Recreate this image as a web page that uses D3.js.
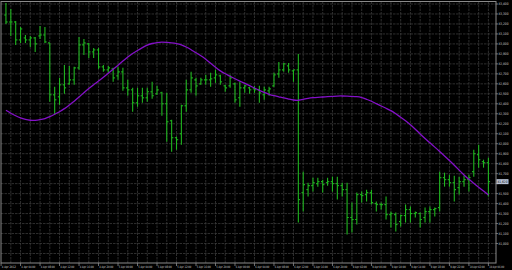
<!DOCTYPE html>
<html>
<head>
<meta charset="utf-8">
<script src="https://cdn.jsdelivr.net/npm/d3@7.9.0/dist/d3.min.js"></script>
<style>
  html, body { margin: 0; padding: 0; background: #000; }
  svg { display: block; }
  text { font-family: Tahoma, "DejaVu Sans", sans-serif; }
</style>
</head>
<body>
<div id="chart"></div>
<script>
// -------- data: hourly OHLC bars + smoothing line --------
const opens = [
  83.29, 83.22, 83.22, 83.04, 83.06, 83.04, 83.06, 83.08, 83.09, 83.01,
  82.49, 82.47, 82.59, 82.60, 82.64, 82.76, 82.99, 83.00, 82.92, 82.94,
  82.77, 82.74, 82.75, 82.68, 82.72, 82.56, 82.54, 82.41, 82.48, 82.46,
  82.52, 82.50, 82.51, 82.40, 82.23, 82.06, 82.10, 82.38, 82.54, 82.64,
  82.60, 82.64, 82.64, 82.66, 82.68, 82.58, 82.58, 82.60, 82.46, 82.56,
  82.56, 82.55, 82.54, 82.49, 82.53, 82.58, 82.70, 82.74, 82.78, 82.73,
  82.74, 81.51, 81.54, 81.58, 81.60, 81.62, 81.61, 81.62, 81.60, 81.58,
  81.54, 81.26, 81.24, 81.49, 81.49, 81.51, 81.40, 81.39, 81.39, 81.29,
  81.29, 81.22, 81.28, 81.34, 81.30, 81.30, 81.26, 81.32, 81.34, 81.36,
  81.66, 81.64, 81.61, 81.56, 81.62, 81.64, 81.72, 81.89, 81.82, 81.81
];
const highs = [
  83.41, 83.35, 83.23, 83.17, 83.09, 83.08, 83.07, 83.18, 83.17, 83.01,
  82.57, 82.66, 82.79, 82.78, 82.77, 83.07, 83.05, 83.01, 82.96, 82.96,
  82.79, 82.78, 82.76, 82.77, 82.76, 82.64, 82.56, 82.56, 82.56, 82.56,
  82.62, 82.58, 82.52, 82.51, 82.24, 82.07, 82.39, 82.64, 82.72, 82.66,
  82.66, 82.69, 82.71, 82.74, 82.69, 82.59, 82.69, 82.61, 82.62, 82.59,
  82.57, 82.58, 82.58, 82.57, 82.57, 82.71, 82.82, 82.81, 82.81, 82.74,
  82.90, 81.72, 81.61, 81.66, 81.66, 81.64, 81.66, 81.67, 81.67, 81.61,
  81.61, 81.41, 81.51, 81.52, 81.54, 81.54, 81.42, 81.41, 81.47, 81.32,
  81.31, 81.29, 81.39, 81.37, 81.32, 81.31, 81.36, 81.37, 81.36, 81.72,
  81.71, 81.69, 81.68, 81.67, 81.68, 81.69, 81.94, 81.99, 81.84, 81.86
];
const lows = [
  83.20, 83.08, 82.99, 83.01, 83.01, 82.97, 82.92, 83.05, 83.01, 82.42,
  82.29, 82.39, 82.50, 82.59, 82.59, 82.74, 82.89, 82.86, 82.86, 82.75,
  82.72, 82.71, 82.62, 82.64, 82.53, 82.48, 82.32, 82.37, 82.41, 82.42,
  82.45, 82.49, 82.28, 82.02, 81.92, 81.94, 81.99, 82.32, 82.51, 82.48,
  82.59, 82.59, 82.57, 82.61, 82.59, 82.52, 82.56, 82.41, 82.37, 82.51,
  82.50, 82.51, 82.41, 82.44, 82.48, 82.57, 82.66, 82.72, 82.71, 82.62,
  81.21, 81.32, 81.47, 81.52, 81.57, 81.51, 81.58, 81.52, 81.44, 81.47,
  81.09, 81.11, 81.19, 81.41, 81.42, 81.39, 81.32, 81.34, 81.24, 81.16,
  81.12, 81.17, 81.21, 81.21, 81.26, 81.16, 81.21, 81.21, 81.27, 81.32,
  81.57, 81.57, 81.42, 81.49, 81.57, 81.52, 81.67, 81.76, 81.76, 81.47
];
const closes = [
  83.22, 83.22, 83.04, 83.15, 83.04, 83.06, 83.00, 83.09, 83.02, 82.49,
  82.44, 82.59, 82.56, 82.64, 82.76, 82.99, 83.01, 82.92, 82.94, 82.77,
  82.74, 82.76, 82.66, 82.72, 82.56, 82.54, 82.41, 82.48, 82.46, 82.52,
  82.48, 82.54, 82.40, 82.22, 82.06, 82.04, 82.38, 82.54, 82.66, 82.58,
  82.64, 82.64, 82.65, 82.69, 82.62, 82.56, 82.66, 82.44, 82.56, 82.58,
  82.54, 82.54, 82.51, 82.54, 82.55, 82.69, 82.74, 82.80, 82.74, 82.74,
  81.44, 81.59, 81.58, 81.61, 81.62, 81.59, 81.62, 81.60, 81.58, 81.54,
  81.26, 81.24, 81.49, 81.48, 81.51, 81.41, 81.39, 81.39, 81.29, 81.30,
  81.19, 81.28, 81.34, 81.30, 81.31, 81.24, 81.32, 81.34, 81.35, 81.66,
  81.64, 81.61, 81.54, 81.62, 81.64, 81.66, 81.90, 81.84, 81.81, 81.62
];
const smooth = [
  82.335, 82.305, 82.280, 82.258, 82.244, 82.234, 82.232, 82.240, 82.250, 82.270,
  82.295, 82.320, 82.350, 82.388, 82.425, 82.467, 82.512, 82.554, 82.592, 82.628,
  82.667, 82.706, 82.746, 82.786, 82.828, 82.870, 82.905, 82.934, 82.963, 82.990,
  83.005, 83.015, 83.019, 83.015, 83.011, 83.005, 82.993, 82.970, 82.943, 82.910,
  82.883, 82.848, 82.807, 82.767, 82.728, 82.700, 82.677, 82.650, 82.627, 82.604,
  82.582, 82.558, 82.535, 82.514, 82.494, 82.481, 82.470, 82.458, 82.448, 82.437,
  82.433, 82.444, 82.456, 82.462, 82.465, 82.468, 82.471, 82.474, 82.478, 82.479,
  82.476, 82.474, 82.472, 82.464, 82.445, 82.427, 82.401, 82.378, 82.355, 82.334,
  82.300, 82.265, 82.230, 82.190, 82.145, 82.098, 82.052, 82.009, 81.966, 81.923,
  81.878, 81.832, 81.785, 81.735, 81.686, 81.643, 81.604, 81.564, 81.526, 81.487
];
// time labels: first one sits at the left edge, the rest every 4 bars from bar 3
const timeLabels = [
  '4 Apr 2012', '4 Apr 04:00', '4 Apr 08:00', '4 Apr 12:00', '4 Apr 16:00', '4 Apr 20:00',
  '5 Apr 00:00', '5 Apr 04:00', '5 Apr 08:00', '5 Apr 12:00', '5 Apr 16:00', '5 Apr 20:00',
  '6 Apr 00:00', '6 Apr 04:00', '6 Apr 08:00', '6 Apr 12:00', '6 Apr 16:00', '6 Apr 20:00',
  '9 Apr 02:00', '9 Apr 06:00', '9 Apr 10:00', '9 Apr 14:00', '9 Apr 18:00', '9 Apr 22:00',
  '10 Apr 02:00', '10 Apr 06:00'
];
const priceTicks = d3.range(25).map(k => +(83.4 - k * 0.1).toFixed(1));
const lastPrice = 81.62;

const bars = opens.map((o, i) => ({ i, o, h: highs[i], l: lows[i], c: closes[i] }));

// -------- layout --------
const width = 512;
const height = 270;
const plot = { left: 1, right: 496, top: 1.5, bottom: 263 };

const svg = d3.select('#chart')
  .append('svg')
  .attr('width', width)
  .attr('height', height);

svg.append('rect').attr('width', width).attr('height', height).attr('fill', '#000');

const xScale = d3.scaleLinear().domain([0, 99]).range([5.94, 488.4]);
const yScale = d3.scaleLinear().domain([80.9, 83.4]).range([253.5, 4]);

// -------- grid --------
const grid = svg.append('g')
  .attr('stroke', '#3a3a3a')
  .attr('stroke-width', 0.8)
  .attr('stroke-dasharray', '2.5,1');

grid.selectAll('line.h')
  .data(d3.range(26).map(k => 83.4 - k * 0.1))
  .join('line')
  .attr('class', 'h')
  .attr('x1', plot.left).attr('x2', plot.right)
  .attr('y1', d => yScale(d)).attr('y2', d => yScale(d));

grid.selectAll('line.v')
  .data(d3.range(1, 100, 2))
  .join('line')
  .attr('class', 'v')
  .attr('x1', d => xScale(d)).attr('x2', d => xScale(d))
  .attr('y1', plot.top).attr('y2', plot.bottom);

// -------- OHLC bars --------
const barG = svg.append('g')
  .attr('stroke', '#1fb51f')
  .attr('stroke-width', 1.1);

const barSel = barG.selectAll('g').data(bars).join('g');
barSel.append('line')
  .attr('x1', d => xScale(d.i)).attr('x2', d => xScale(d.i))
  .attr('y1', d => yScale(d.h)).attr('y2', d => yScale(d.l));
barSel.append('line')
  .attr('x1', d => xScale(d.i) - 1.7).attr('x2', d => xScale(d.i))
  .attr('y1', d => yScale(d.o)).attr('y2', d => yScale(d.o));
barSel.append('line')
  .attr('x1', d => xScale(d.i)).attr('x2', d => xScale(d.i) + 1.7)
  .attr('y1', d => yScale(d.c)).attr('y2', d => yScale(d.c));

// -------- smoothing line --------
const line = d3.line()
  .x((d, i) => xScale(i))
  .y(d => yScale(d))
  .curve(d3.curveBasis);

svg.append('path')
  .datum(smooth)
  .attr('fill', 'none')
  .attr('stroke', '#8410c8')
  .attr('stroke-width', 1.3)
  .attr('d', line);

// -------- frame --------
svg.append('rect')
  .attr('x', plot.left).attr('y', plot.top)
  .attr('width', plot.right - plot.left).attr('height', plot.bottom - plot.top)
  .attr('fill', 'none')
  .attr('stroke', '#8a8a8a')
  .attr('stroke-width', 1);

// -------- price axis --------
const fmt = d => d3.format('.3f')(d).replace('.', ',');
// the current-price box hides the tick label under it
const shownTicks = priceTicks.filter(d => Math.abs(yScale(d) - yScale(lastPrice)) > 5);
const yAxis = svg.append('g');
yAxis.selectAll('line')
  .data(priceTicks)
  .join('line')
  .attr('x1', plot.right).attr('x2', plot.right + 2)
  .attr('y1', d => yScale(d)).attr('y2', d => yScale(d))
  .attr('stroke', '#8a8a8a').attr('stroke-width', 0.8);
yAxis.selectAll('text')
  .data(shownTicks)
  .join('text')
  .attr('x', plot.right + 2.5)
  .attr('y', d => yScale(d) + 1.2)
  .attr('font-size', 3.4)
  .attr('textLength', 10)
  .attr('lengthAdjust', 'spacingAndGlyphs')
  .attr('fill', '#d0d0d0')
  .text(fmt);

// current price box
svg.append('rect')
  .attr('x', plot.right + 0.5).attr('y', yScale(lastPrice) - 2.5)
  .attr('width', 12).attr('height', 5)
  .attr('fill', '#b9c3d6');
svg.append('text')
  .attr('x', plot.right + 1.5).attr('y', yScale(lastPrice) + 1.2)
  .attr('font-size', 3.4)
  .attr('textLength', 10)
  .attr('lengthAdjust', 'spacingAndGlyphs')
  .attr('fill', '#000')
  .text(fmt(lastPrice));

// -------- time axis --------
const timeTicks = timeLabels.map((t, k) => ({ t, i: k === 0 ? -1 : 4 * k - 1 }));
const xAxis = svg.append('g');
xAxis.selectAll('line')
  .data(timeTicks)
  .join('line')
  .attr('x1', d => xScale(d.i)).attr('x2', d => xScale(d.i))
  .attr('y1', plot.bottom).attr('y2', plot.bottom + 3)
  .attr('stroke', '#8a8a8a').attr('stroke-width', 0.8);
xAxis.selectAll('text')
  .data(timeTicks)
  .join('text')
  .attr('x', d => Math.max(1.7, xScale(d.i) + 0.8))
  .attr('y', 267.5)
  .attr('font-size', 3.2)
  .attr('textLength', d => d.t.length >= 12 ? 15 : 14)
  .attr('lengthAdjust', 'spacingAndGlyphs')
  .attr('fill', '#d0d0d0')
  .text(d => d.t);
</script>
</body>
</html>
